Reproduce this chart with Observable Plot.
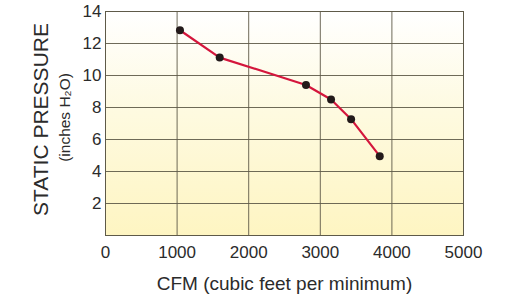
<!DOCTYPE html>
<html>
<head>
<meta charset="utf-8">
<script src="https://cdn.jsdelivr.net/npm/d3@7"></script>
<script src="https://cdn.jsdelivr.net/npm/@observablehq/plot@0.6"></script>
<style>
  html, body { margin: 0; padding: 0; background: #fff; }
  svg { font-family: "Liberation Sans", Arial, sans-serif; }
</style>
</head>
<body>
<div id="chart"></div>
<script>
const cfm = [1040, 1595, 2800, 3150, 3430, 3830];
const pressure = [12.83, 11.12, 9.41, 8.5, 7.27, 4.96];
const xTicks = [0, 1000, 2000, 3000, 4000, 5000];
const yTicks = [2, 4, 6, 8, 10, 12, 14];
const yGrid = [2, 4, 6, 8, 10, 12];
const xGrid = [1000, 2000, 3000, 4000];
const xLabel = "CFM (cubic feet per minimum)";
const yLabel = "STATIC PRESSURE";
const yLabel2 = "(inches H\u2082O)";

const data = cfm.map((c, i) => ({cfm: c, p: pressure[i]}));

const plot = Plot.plot({
  width: 513,
  height: 297,
  marginLeft: 105,
  marginRight: 50,
  marginTop: 11,
  marginBottom: 62,
  style: {fontFamily: "'Liberation Sans', Arial, sans-serif", fontSize: "17px", color: "#2b2b2b", background: "transparent"},
  x: {domain: [0, 5000], ticks: xTicks, tickSize: 0, tickPadding: 10, tickFormat: d => String(d), label: null},
  y: {domain: [0, 14], ticks: yTicks, tickSize: 0, tickPadding: 4, tickFormat: d => String(d), label: null},
  marks: [
    Plot.frame({fill: "url(#bggrad)", stroke: "none"}),
    Plot.gridX(xGrid, {stroke: "#5e5a48", strokeOpacity: 0.9, strokeWidth: 1}),
    Plot.gridY(yGrid, {stroke: "#5e5a48", strokeOpacity: 0.9, strokeWidth: 1}),
    Plot.frame({stroke: "#5e5a48", strokeWidth: 1}),
    Plot.line(data, {x: "cfm", y: "p", stroke: "#d4163c", strokeWidth: 2.2, curve: "linear"}),
    Plot.dot(data, {x: "cfm", y: "p", r: 4, fill: "#231a1a"}),
    Plot.text([xLabel], {frameAnchor: "bottom", dy: 54, text: d => d, fontSize: 19, fill: "#2b2b2b"}),
    Plot.text([yLabel], {frameAnchor: "left", textAnchor: "middle", dx: -64, dy: -4, rotate: -90, text: d => d, fontSize: 21, fill: "#2b2b2b"}),
    Plot.text([yLabel2], {frameAnchor: "left", textAnchor: "middle", dx: -40, dy: -6, rotate: -90, text: d => d, fontSize: 15.5, fill: "#2b2b2b"})
  ]
});

const svgNS = "http://www.w3.org/2000/svg";
const defs = document.createElementNS(svgNS, "defs");
defs.innerHTML = `<linearGradient id="bggrad" x1="0" y1="0" x2="0" y2="1">
  <stop offset="0" stop-color="#ffffff"/>
  <stop offset="0.45" stop-color="#fefae0"/>
  <stop offset="1" stop-color="#fef5c2"/>
</linearGradient>`;
plot.insertBefore(defs, plot.firstChild);
document.getElementById("chart").appendChild(plot);
</script>
</body>
</html>
